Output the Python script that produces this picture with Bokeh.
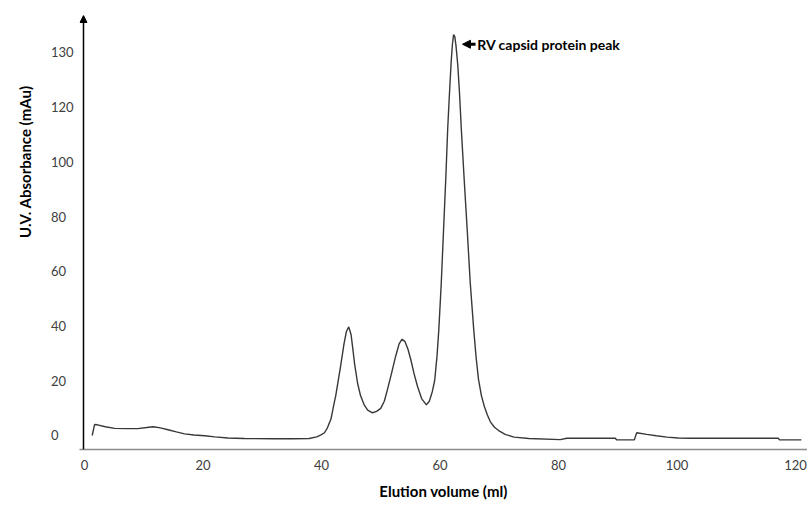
import math
from bokeh.plotting import figure
from bokeh.models import Range1d, Arrow, NormalHead, Label, FixedTicker, Title
from bokeh.embed import file_html
from bokeh.resources import INLINE

# ---- data ----
elution_ml = [1.3, 1.7, 2.2, 3.5, 5.1, 7.0, 9.0, 10.5, 11.6, 12.8, 14.1, 15.5, 16.9, 18.5,
              20.3, 22.0, 24.2, 27.0, 32.0, 35.0, 37.9, 39.2, 40.0, 40.5, 41.0, 41.6, 42.1,
              42.4, 43.2, 43.8, 44.2, 44.6, 45.0, 45.3, 45.6, 46.1, 46.6, 47.2, 47.8, 48.6,
              49.3, 50.0, 50.6, 51.1, 51.8, 52.5, 53.1, 53.6, 54.1, 54.6, 55.1, 55.6, 56.2,
              56.9, 57.7, 58.2, 58.7, 59.1, 59.5, 59.8, 60.2, 60.6, 61.0, 61.3, 61.6, 61.9,
              62.1, 62.3, 62.5, 62.7, 63.0, 63.3, 63.6, 64.1, 64.6, 65.1, 65.7, 66.1, 66.5,
              67.0, 67.5, 68.0, 68.5, 69.2, 69.9, 71.0, 72.5, 75.0, 80.3, 81.4, 89.6, 89.8,
              92.8, 93.2, 94.9, 96.5, 98.3, 100.2, 102.2, 117.1, 117.3, 121.0]
absorbance_mau = [0.0, 4.0, 3.9, 3.2, 2.6, 2.5, 2.5, 2.9, 3.2, 2.8, 2.1, 1.3, 0.6, 0.2,
                  -0.1, -0.5, -0.9, -1.1, -1.2, -1.2, -1.1, -0.5, 0.3, 1.0, 2.8, 6.0, 11.5,
                  14.5, 25.0, 33.5, 38.0, 39.7, 36.8, 31.5, 26.0, 19.0, 14.5, 11.2, 9.3, 8.3,
                  8.8, 9.9, 12.5, 16.5, 22.5, 28.8, 33.5, 35.2, 34.3, 31.5, 27.5, 22.8, 18.0,
                  13.5, 11.2, 12.5, 16.0, 20.0, 29.0, 38.6, 55.0, 75.0, 95.0, 112.0, 125.0, 137.0,
                  143.0, 146.5, 145.8, 142.5, 135.5, 125.0, 112.0, 93.0, 75.0, 56.0, 38.6, 28.5, 20.5,
                  14.5, 10.5, 7.5, 5.0, 3.0, 1.8, 0.4, -0.6, -1.1, -1.5, -1.0, -1.0, -1.6,
                  -1.6, 1.0, 0.4, -0.1, -0.6, -0.9, -1.0, -1.0, -1.6, -1.6]

x_ticks = [0, 20, 40, 60, 80, 100, 120]
y_tick_positions = [0, 20, 40, 60, 80, 100, 120, 140]
y_tick_labels = ["0", "20", "40", "60", "80", "100", "120", "130"]
peak_label = "RV capsid protein peak"
x_title = "Elution volume (ml)"
y_title = "U.V. Absorbance (mAu)"

FONT = "Lato"
PX_PER_ML = 5.933
AXIS_X = -1 / PX_PER_ML          # where the y axis line sits
X0, X1 = -5 / PX_PER_ML, 724 / PX_PER_ML
Y0, Y1 = -5.12, 153.5

p = figure(width=807, height=505, output_backend="svg", toolbar_location=None,
           x_range=Range1d(X0, X1), y_range=Range1d(Y0, Y1),
           min_border_left=78, min_border_right=0, min_border_top=15, min_border_bottom=56)
p.background_fill_color = "white"
p.outline_line_color = None
p.xgrid.visible = False
p.ygrid.visible = False

p.line(elution_ml, absorbance_mau, line_color="#383838", line_width=1.4)

# x axis
xa = p.xaxis[0]
xa.ticker = FixedTicker(ticks=x_ticks)
xa.axis_line_color = "#8c8c8c"
xa.axis_line_width = 1.5
xa.major_tick_line_color = None
xa.minor_tick_line_color = None
xa.major_label_text_font = FONT
xa.major_label_text_font_size = "13px"
xa.major_label_text_color = "#404040"
xa.major_label_standoff = 4
xa.axis_label = x_title
xa.axis_label_text_font = FONT
xa.axis_label_text_font_style = "bold"
xa.axis_label_text_font_size = "15px"
xa.axis_label_text_color = "#000000"
xa.axis_label_standoff = 9

# y axis (labels left aligned by padding with figure spaces)
width = max(len(s) for s in y_tick_labels)
ya = p.yaxis[0]
ya.ticker = FixedTicker(ticks=y_tick_positions)
ya.major_label_overrides = {t: s + "\u2007" * (width - len(s))
                            for t, s in zip(y_tick_positions, y_tick_labels)}
ya.axis_line_color = None
ya.major_tick_line_color = None
ya.minor_tick_line_color = None
ya.major_label_text_font = FONT
ya.major_label_text_font_size = "13px"
ya.major_label_text_color = "#404040"
ya.major_label_standoff = 0

# y axis line with arrow head
p.add_layout(Arrow(end=NormalHead(size=7, fill_color="black", line_color="black"),
                   x_start=AXIS_X, y_start=Y0, x_end=AXIS_X, y_end=Y1,
                   line_color="black", line_width=1.5))

# y axis title
p.add_layout(Title(text=y_title, align="right", offset=70, standoff=27,
                   text_font=FONT, text_font_style="bold", text_font_size="15px",
                   text_color="black"), "left")

# annotation near the main peak
imax = max(range(len(absorbance_mau)), key=lambda i: absorbance_mau[i])
px, py = elution_ml[imax], absorbance_mau[imax]
p.add_layout(Arrow(end=NormalHead(size=8, fill_color="black", line_color="black"),
                   x_start=px + 3.7, y_start=py - 3.5, x_end=px + 1.5, y_end=py - 3.5,
                   line_color="black", line_width=3))
p.add_layout(Label(x=px + 4.0, y=py - 3.5, text=peak_label, text_align="left",
                   text_baseline="middle", text_font=FONT, text_font_style="bold",
                   text_font_size="14px", text_color="black"))

open("out.html", "w").write(file_html(p, INLINE))
